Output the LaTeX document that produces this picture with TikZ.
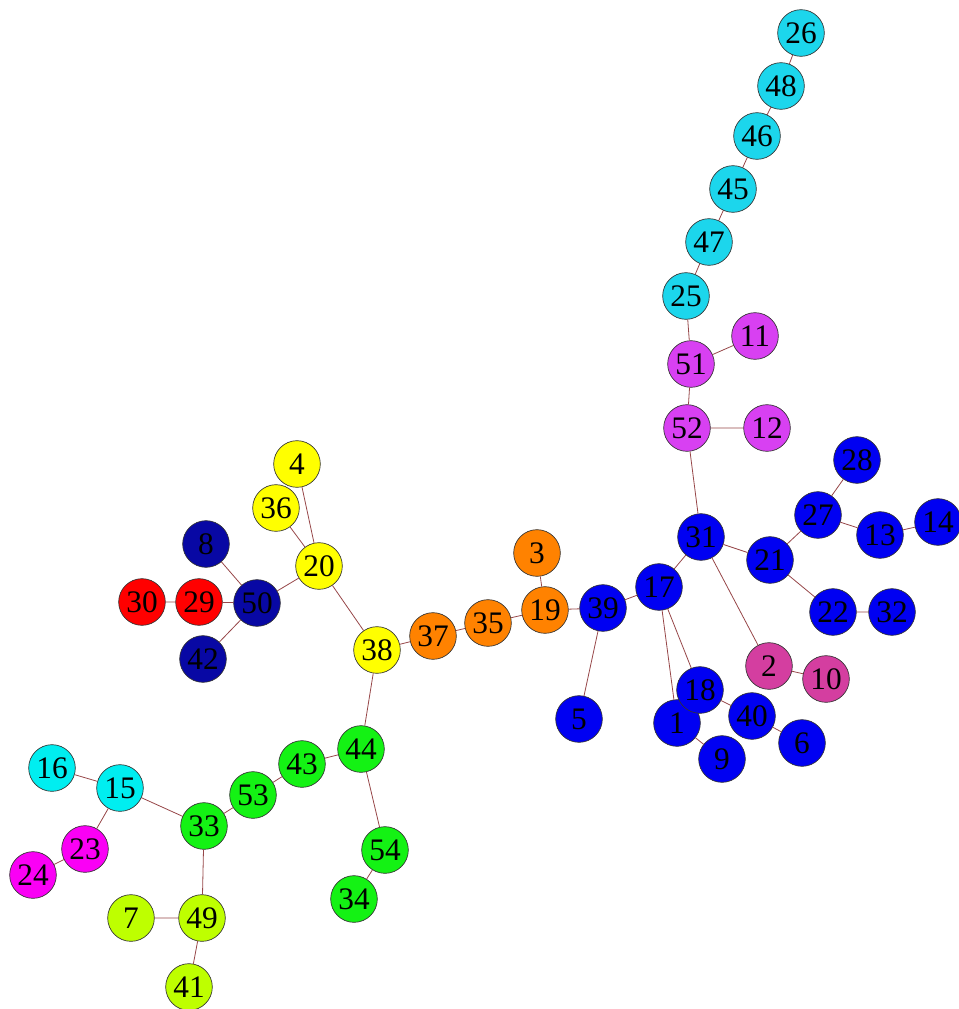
\documentclass[tikz,border=0pt]{standalone}
\usepackage{fontspec}
\setmainfont{Liberation Serif}
\usepackage{xcolor}

\definecolor{teal1}{RGB}{28,214,236}
\definecolor{aqua1}{RGB}{0,238,240}
\definecolor{violet1}{RGB}{216,64,242}
\definecolor{blue1}{RGB}{0,0,242}
\definecolor{navy1}{RGB}{8,8,164}
\definecolor{red1}{RGB}{255,0,0}
\definecolor{yellow1}{RGB}{255,255,0}
\definecolor{orange1}{RGB}{255,130,0}
\definecolor{green1}{RGB}{20,242,20}
\definecolor{lime1}{RGB}{190,255,0}
\definecolor{pink1}{RGB}{250,0,245}
\definecolor{rose1}{RGB}{212,62,160}
\definecolor{edge1}{RGB}{150,70,72}

\begin{document}
\begin{tikzpicture}[x=0.75pt,y=-0.75pt,font=\fontsize{23.5}{23.5}\selectfont,
  vx/.style={circle,draw=black!80,line width=0.5pt,minimum size=35pt,inner sep=0pt},
  lk/.style={edge1,line width=0.6pt}]
\useasboundingbox (0,0) rectangle (959,1009);
% upper chain
\node[vx,fill=teal1] (n26) at (801,33) {26};
\node[vx,fill=teal1] (n48) at (781,86) {48};
\node[vx,fill=teal1] (n46) at (757,136) {46};
\node[vx,fill=teal1] (n45) at (733,189) {45};
\node[vx,fill=teal1] (n47) at (709,242) {47};
\node[vx,fill=teal1] (n25) at (686,296) {25};
\node[vx,fill=violet1] (n11) at (755,336) {11};
\node[vx,fill=violet1] (n51) at (691,364) {51};
\node[vx,fill=violet1] (n52) at (687,428) {52};
\node[vx,fill=violet1] (n12) at (767,428) {12};
% right cluster
\node[vx,fill=blue1] (n28) at (857,460) {28};
\node[vx,fill=blue1] (n27) at (818,515) {27};
\node[vx,fill=blue1] (n13) at (880,535) {13};
\node[vx,fill=blue1] (n14) at (938,522) {14};
\node[vx,fill=blue1] (n31) at (701,537) {31};
\node[vx,fill=blue1] (n21) at (770,560) {21};
\node[vx,fill=blue1] (n22) at (833,612) {22};
\node[vx,fill=blue1] (n32) at (892,612) {32};
\node[vx,fill=blue1] (n17) at (659,587) {17};
\node[vx,fill=blue1] (n39) at (603,608) {39};
\node[vx,fill=blue1] (n5) at (579,719) {5};
\node[vx,fill=blue1] (n1) at (677,723) {1};
\node[vx,fill=blue1] (n18) at (700,690) {18};
\node[vx,fill=blue1] (n40) at (752,716) {40};
\node[vx,fill=blue1] (n6) at (802,743) {6};
\node[vx,fill=blue1] (n9) at (722,759) {9};
\node[vx,fill=rose1] (n2) at (769,666) {2};
\node[vx,fill=rose1] (n10) at (826,679) {10};
% middle
\node[vx,fill=orange1] (n3) at (537,553) {3};
\node[vx,fill=orange1] (n19) at (545,610) {19};
\node[vx,fill=orange1] (n35) at (488,623) {35};
\node[vx,fill=orange1] (n37) at (433,636) {37};
\node[vx,fill=yellow1] (n38) at (377,650) {38};
\node[vx,fill=yellow1] (n20) at (319,566) {20};
\node[vx,fill=yellow1] (n36) at (276,508) {36};
\node[vx,fill=yellow1] (n4) at (297,464) {4};
\node[vx,fill=navy1] (n8) at (206,544) {8};
\node[vx,fill=navy1] (n50) at (257,603) {50};
\node[vx,fill=navy1] (n42) at (203,659) {42};
\node[vx,fill=red1] (n29) at (199,602) {29};
\node[vx,fill=red1] (n30) at (142,602) {30};
% lower left
\node[vx,fill=green1] (n44) at (361,749) {44};
\node[vx,fill=green1] (n43) at (302,764) {43};
\node[vx,fill=green1] (n53) at (253,795) {53};
\node[vx,fill=green1] (n33) at (204,826) {33};
\node[vx,fill=green1] (n54) at (385,850) {54};
\node[vx,fill=green1] (n34) at (354,899) {34};
\node[vx,fill=aqua1] (n15) at (120,788) {15};
\node[vx,fill=aqua1] (n16) at (52,768) {16};
\node[vx,fill=pink1] (n23) at (85,849) {23};
\node[vx,fill=pink1] (n24) at (33,875) {24};
\node[vx,fill=lime1] (n49) at (202,918) {49};
\node[vx,fill=lime1] (n7) at (131,918) {7};
\node[vx,fill=lime1] (n41) at (189,987) {41};
% links
\draw[lk] (n26) -- (n48) (n48) -- (n46) (n46) -- (n45) (n45) -- (n47) (n47) -- (n25);
\draw[lk] (n25) -- (n51) (n51) -- (n11) (n51) -- (n52) (n52) -- (n12) (n52) -- (n31);
\draw[lk] (n31) -- (n21) (n21) -- (n27) (n27) -- (n28) (n27) -- (n13) (n13) -- (n14);
\draw[lk] (n21) -- (n22) (n22) -- (n32) (n31) -- (n2) (n2) -- (n10) (n31) -- (n17);
\draw[lk] (n17) -- (n1) (n17) -- (n18) (n18) -- (n40) (n40) -- (n6) (n1) -- (n9);
\draw[lk] (n17) -- (n39) (n39) -- (n5) (n39) -- (n19) (n19) -- (n3) (n19) -- (n35);
\draw[lk] (n35) -- (n37) (n37) -- (n38) (n38) -- (n20) (n20) -- (n4) (n20) -- (n36);
\draw[lk] (n20) -- (n50) (n50) -- (n8) (n50) -- (n29) (n29) -- (n30) (n50) -- (n42);
\draw[lk] (n38) -- (n44) (n44) -- (n43) (n43) -- (n53) (n53) -- (n33) (n44) -- (n54);
\draw[lk] (n54) -- (n34) (n33) -- (n15) (n15) -- (n16) (n15) -- (n23) (n23) -- (n24);
\draw[lk] (n33) -- (n49) (n49) -- (n7) (n49) -- (n41);
\end{tikzpicture}
\end{document}
